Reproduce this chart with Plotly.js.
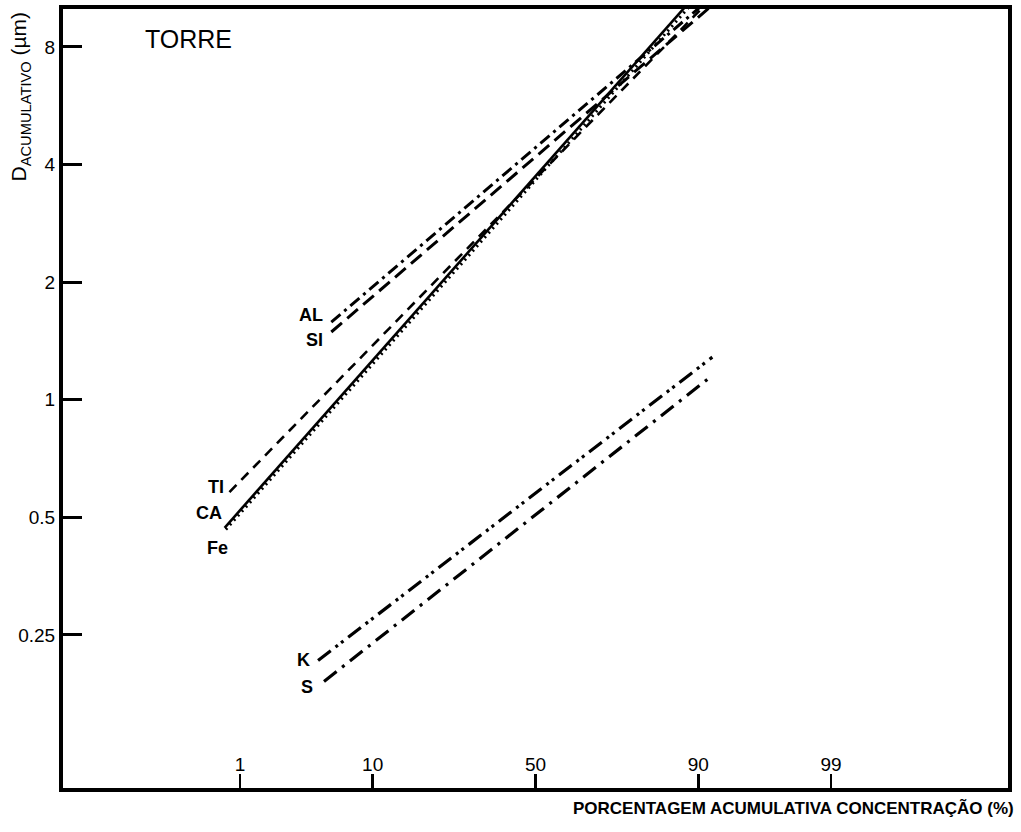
<!DOCTYPE html>
<html>
<head>
<meta charset="utf-8">
<script src="https://cdn.plot.ly/plotly-3.0.1.min.js"></script>
<style>
  html, body { margin: 0; padding: 0; background: #fff; }
  #chart { width: 1021px; height: 832px; }
</style>
</head>
<body>
<div id="chart"></div>
<script>
// ---- data ----
const elements   = ['AL', 'SI', 'TI', 'CA', 'Fe', 'K', 'S'];
const pctStart   = [5.4, 5.4, 0.80, 0.72, 0.74, 4.35, 4.8];     // cumulative % at line start
const pctEnd     = [90.2, 91.5, 90.6, 88.0, 88.6, 91.8, 91.5];  // cumulative % at line end
const diamStart  = [1.58, 1.49, 0.58, 0.47, 0.465, 0.215, 0.19]; // D (µm) at line start
const diamEnd    = [10.1, 10.1, 10.1, 10.1, 10.1, 1.285, 1.14];  // D (µm) at line end
const xTickPct   = [1, 10, 50, 90, 99];
const xTickText  = ['1', '10', '50', '90', '99'];
const yTickVals  = [0.25, 0.5, 1, 2, 4, 8];
const yTickText  = ['0.25', '0.5', '1', '2', '4', '8'];

// probability-scale axis: percent -> normal quantile
function probit(pct) {
  const p = pct / 100;
  const a = [-3.969683028665376e+01, 2.209460984245205e+02, -2.759285104469687e+02,
             1.383577518672690e+02, -3.066479806614716e+01, 2.506628277459239e+00];
  const b = [-5.447609879822406e+01, 1.615858368580409e+02, -1.556989798598866e+02,
             6.680131188771972e+01, -1.328068155288572e+01];
  const c = [-7.784894002430293e-03, -3.223964580411365e-01, -2.400758277161838e+00,
             -2.549732539343734e+00, 4.374664141464968e+00, 2.938163982698783e+00];
  const d = [7.784695709041462e-03, 3.224671290700398e-01, 2.445134137142996e+00,
             3.754408661907416e+00];
  const pl = 0.02425, ph = 1 - pl;
  let q, r;
  if (p < pl) {
    q = Math.sqrt(-2 * Math.log(p));
    return (((((c[0]*q+c[1])*q+c[2])*q+c[3])*q+c[4])*q+c[5]) /
           ((((d[0]*q+d[1])*q+d[2])*q+d[3])*q+1);
  } else if (p <= ph) {
    q = p - 0.5; r = q * q;
    return (((((a[0]*r+a[1])*r+a[2])*r+a[3])*r+a[4])*r+a[5])*q /
           (((((b[0]*r+b[1])*r+b[2])*r+b[3])*r+b[4])*r+1);
  } else {
    q = Math.sqrt(-2 * Math.log(1 - p));
    return -(((((c[0]*q+c[1])*q+c[2])*q+c[3])*q+c[4])*q+c[5]) /
            ((((d[0]*q+d[1])*q+d[2])*q+d[3])*q+1);
  }
}

const dashes = {
  AL: '12px,5px,3px,5px',
  SI: '14px,7px',
  TI: '10px,7px',
  CA: 'solid',
  Fe: '2px,4px',
  K:  '16px,6px,3px,4px,3px,6px',
  S:  '16px,7px,3px,7px'
};
const widths = { AL: 3, SI: 3, TI: 2.6, CA: 2.6, Fe: 3, K: 3.2, S: 3.2 };

const traces = elements.map((el, i) => ({
  type: 'scatter',
  mode: 'lines',
  name: el,
  x: [probit(pctStart[i]), probit(pctEnd[i])],
  y: [diamStart[i], diamEnd[i]],
  line: { color: '#000', width: widths[el], dash: dashes[el] },
  hoverinfo: 'skip'
}));

const labelShift = {
  AL: [-6, 7], SI: [-6, -8], TI: [-3, 5], CA: [-1, 15], Fe: [4, -18], K: [-6, 0], S: [-9, -6]
};
const annotations = elements.map((el, i) => ({
  x: probit(pctStart[i]), y: Math.log10(diamStart[i]),
  xref: 'x', yref: 'y',
  text: el, showarrow: false,
  xanchor: 'right', yanchor: 'middle',
  xshift: labelShift[el][0], yshift: labelShift[el][1],
  font: { family: 'Liberation Sans, Arial, sans-serif', size: 18, color: '#000', weight: 'bold' }
}));

annotations.push({
  xref: 'paper', yref: 'paper', x: 0.085, y: 0.962,
  text: 'TORRE', showarrow: false, xanchor: 'left', yanchor: 'middle',
  font: { family: 'Liberation Sans, Arial, sans-serif', size: 25, color: '#000' }
});
annotations.push({
  xref: 'paper', yref: 'paper', x: -0.045, y: 1.0,
  text: 'D<sub>ACUMULATIVO</sub> (µm)', showarrow: false, textangle: -90,
  xanchor: 'center', yanchor: 'top',
  font: { family: 'Liberation Sans Narrow, Liberation Sans, Arial, sans-serif', size: 21, color: '#000' }
});
annotations.push({
  xref: 'paper', yref: 'paper', x: 1.008, y: -0.026,
  text: 'PORCENTAGEM ACUMULATIVA CONCENTRAÇÃO (%)', showarrow: false,
  xanchor: 'right', yanchor: 'middle',
  font: { family: 'Liberation Sans Narrow, Liberation Sans, Arial, sans-serif', size: 17, color: '#000', weight: 'bold' }
});

const layout = {
  width: 1021, height: 832,
  margin: { l: 63, r: 13, t: 9, b: 44 },
  paper_bgcolor: '#fff', plot_bgcolor: '#fff',
  showlegend: false,
  font: { family: 'Liberation Sans, Arial, sans-serif', color: '#000' },
  xaxis: {
    range: [-3.719, 3.719],
    tickmode: 'array',
    tickvals: xTickPct.map(probit),
    ticktext: xTickText,
    ticks: 'inside', ticklen: 14, tickwidth: 2.5, tickcolor: '#000',
    ticklabelposition: 'inside',
    tickfont: { size: 19, color: '#000' },
    showgrid: false, zeroline: false,
    showline: true, linecolor: '#000', linewidth: 4, mirror: true
  },
  yaxis: {
    type: 'log',
    range: [-0.994, 1.0],
    tickmode: 'array',
    tickvals: yTickVals,
    ticktext: yTickText,
    ticks: 'inside', ticklen: 19, tickwidth: 3, tickcolor: '#000',
    tickfont: { size: 19, color: '#000' },
    showgrid: false, zeroline: false,
    showline: true, linecolor: '#000', linewidth: 4, mirror: true
  },
  annotations: annotations
};

Plotly.newPlot('chart', traces, layout, { staticPlot: true, displayModeBar: false });
</script>
</body>
</html>
